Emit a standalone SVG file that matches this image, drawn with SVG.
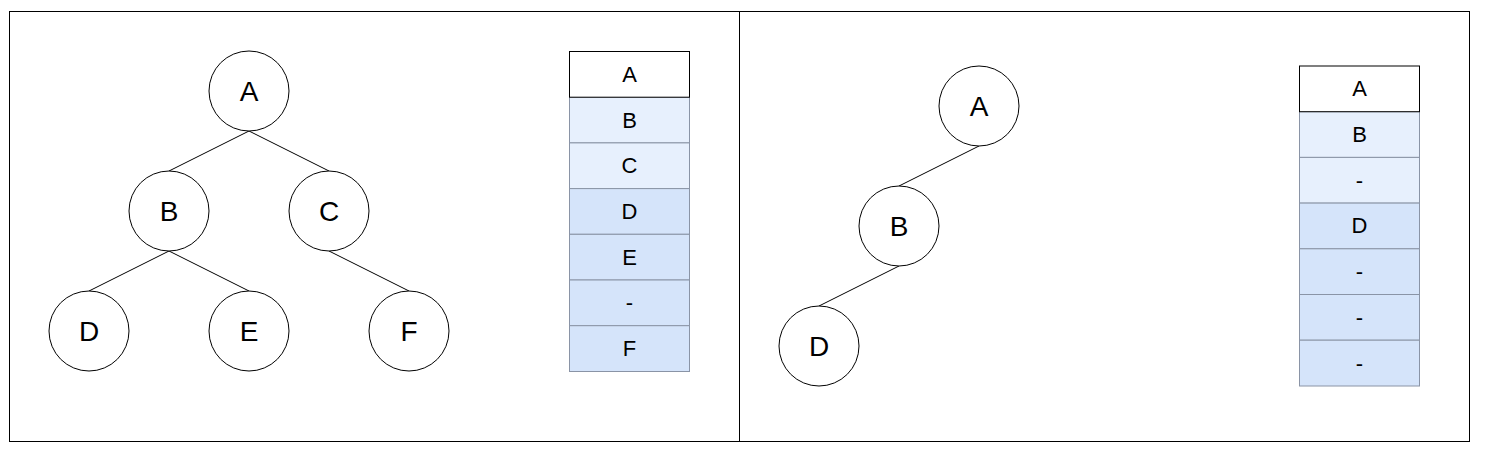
<svg xmlns="http://www.w3.org/2000/svg" width="1486" height="456" viewBox="0 0 1486 456">
<style>
.frame{fill:none;stroke:#000;stroke-width:1}
.node circle{fill:#fff;stroke:#000;stroke-width:1}
.node text{font-family:"Liberation Sans",Arial,sans-serif;font-size:28px;fill:#000;text-anchor:middle;dominant-baseline:central}
.edge{stroke:#000;stroke-width:1;fill:none}
.cell text{font-family:"Liberation Sans",Arial,sans-serif;font-size:22px;fill:#000;text-anchor:middle;dominant-baseline:central}
.c0{fill:#fff;stroke:#000}
.c1{fill:#e7f0fd;stroke:#8a94a6}
.c2{fill:#d5e4fa;stroke:#8a94a6}
</style>
<rect x="0" y="0" width="1486" height="456" fill="#fff"/>
<g id="frames">
<rect class="frame" x="9.5" y="11.5" width="730" height="430"/>
<rect class="frame" x="739.5" y="11.5" width="730" height="430"/>
</g>
<g id="connectors">
<line class="edge" x1="249" y1="131" x2="169" y2="171"/>
<line class="edge" x1="249" y1="131" x2="329" y2="171"/>
<line class="edge" x1="169" y1="251" x2="89" y2="291"/>
<line class="edge" x1="169" y1="251" x2="249" y2="291"/>
<line class="edge" x1="329" y1="251" x2="409" y2="291"/>
<line class="edge" x1="979" y1="146" x2="899" y2="186"/>
<line class="edge" x1="899" y1="266" x2="819" y2="306"/>
</g>
<g id="L-A" class="node"><circle cx="249" cy="91" r="40"/><text x="249" y="91">A</text></g>
<g id="L-B" class="node"><circle cx="169" cy="211" r="40"/><text x="169" y="211">B</text></g>
<g id="L-C" class="node"><circle cx="329" cy="211" r="40"/><text x="329" y="211">C</text></g>
<g id="L-D" class="node"><circle cx="89" cy="331" r="40"/><text x="89" y="331">D</text></g>
<g id="L-E" class="node"><circle cx="249" cy="331" r="40"/><text x="249" y="331">E</text></g>
<g id="L-F" class="node"><circle cx="409" cy="331" r="40"/><text x="409" y="331">F</text></g>
<g id="R-A" class="node"><circle cx="979" cy="106" r="40"/><text x="979" y="106">A</text></g>
<g id="R-B" class="node"><circle cx="899" cy="226" r="40"/><text x="899" y="226">B</text></g>
<g id="R-D" class="node"><circle cx="819" cy="346" r="40"/><text x="819" y="346">D</text></g>
<g id="left-array" class="cell">
<rect class="c1" x="569.5" y="97.2" width="120" height="45.7"/><text x="629.5" y="120">B</text>
<rect class="c1" x="569.5" y="142.9" width="120" height="45.7"/><text x="629.5" y="165.7">C</text>
<rect class="c2" x="569.5" y="188.6" width="120" height="45.7"/><text x="629.5" y="211.4">D</text>
<rect class="c2" x="569.5" y="234.3" width="120" height="45.7"/><text x="629.5" y="257.1">E</text>
<rect class="c2" x="569.5" y="280" width="120" height="45.7"/><text x="629.5" y="302.8">-</text>
<rect class="c2" x="569.5" y="325.7" width="120" height="45.8"/><text x="629.5" y="348.6">F</text>
<rect class="c0" x="569.5" y="51.5" width="120" height="45.7"/><text x="629.5" y="74.3">A</text>
</g>
<g id="right-array" class="cell">
<rect class="c1" x="1299.5" y="111.7" width="120" height="45.7"/><text x="1359.5" y="134.5">B</text>
<rect class="c1" x="1299.5" y="157.4" width="120" height="45.7"/><text x="1359.5" y="180.2">-</text>
<rect class="c2" x="1299.5" y="203.1" width="120" height="45.7"/><text x="1359.5" y="225.9">D</text>
<rect class="c2" x="1299.5" y="248.8" width="120" height="45.7"/><text x="1359.5" y="271.6">-</text>
<rect class="c2" x="1299.5" y="294.5" width="120" height="45.7"/><text x="1359.5" y="317.3">-</text>
<rect class="c2" x="1299.5" y="340.2" width="120" height="45.8"/><text x="1359.5" y="363.1">-</text>
<rect class="c0" x="1299.5" y="66" width="120" height="45.7"/><text x="1359.5" y="88.8">A</text>
</g>
</svg>
